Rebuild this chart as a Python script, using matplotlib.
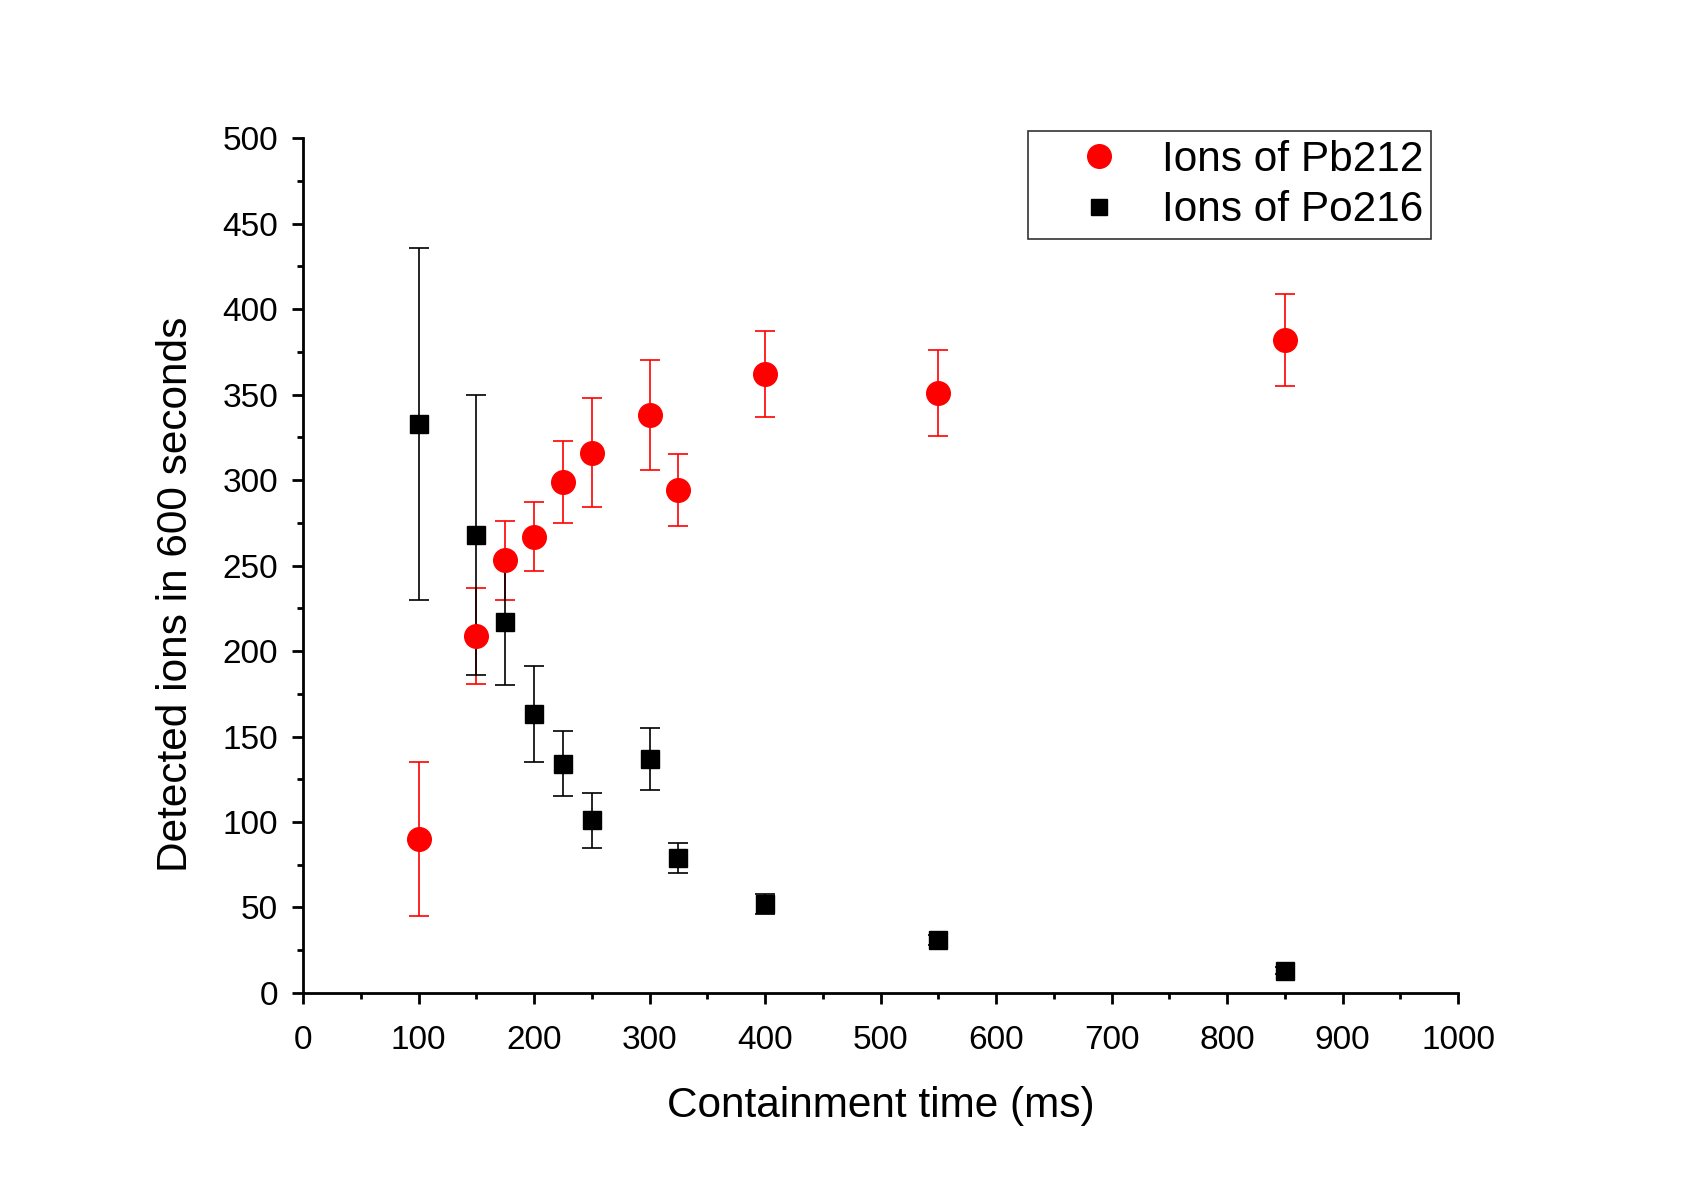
import matplotlib.pyplot as plt
from matplotlib.lines import Line2D
from matplotlib.ticker import MultipleLocator

plt.rcParams['font.family'] = ['Liberation Sans', 'DejaVu Sans']

# containment times (ms)
times = [100, 150, 175, 200, 225, 250, 300, 325, 400, 550, 850]

# Pb212 ions
pb212 = [90, 209, 253, 267, 299, 316, 338, 294, 362, 351, 382]
pb212_err = [45, 28, 23, 20, 24, 32, 32, 21, 25, 25, 27]

# Po216 ions
po216 = [333, 268, 217, 163, 134, 101, 137, 79, 52, 31, 13]
po216_err = [103, 82, 37, 28, 19, 16, 18, 9, 6, 3, 2]

fig = plt.figure(figsize=(16.96, 11.92), dpi=100)
ax = fig.add_axes([0.1787, 0.167, 0.681, 0.717])

ax.errorbar(times, pb212, yerr=pb212_err, fmt='o', color='red', ms=17,
            ecolor='red', elinewidth=1.2, capsize=7, capthick=1.2, zorder=3)
ax.errorbar(times, po216, yerr=po216_err, fmt='s', color='black', ms=13,
            ecolor='black', elinewidth=1.2, capsize=7, capthick=1.2, zorder=3)

ax.set_xlim(0, 1000)
ax.set_ylim(0, 500)
ax.xaxis.set_major_locator(MultipleLocator(100))
ax.xaxis.set_minor_locator(MultipleLocator(50))
ax.yaxis.set_major_locator(MultipleLocator(50))
ax.yaxis.set_minor_locator(MultipleLocator(25))

for s in ['top', 'right']:
    ax.spines[s].set_visible(False)
for s in ['left', 'bottom']:
    ax.spines[s].set_linewidth(2)

ax.tick_params(which='major', direction='out', length=8, width=2, labelsize=24, pad=10)
ax.tick_params(axis='x', which='major', pad=15)
ax.tick_params(which='minor', direction='out', length=4.5, width=2)

ax.set_xlabel('Containment time (ms)', fontsize=30.5, labelpad=22)
ax.set_ylabel('Detected ions in 600 seconds', fontsize=30.5)
ax.yaxis.set_label_coords(-0.093, 0.466)

handles = [
    Line2D([], [], ls='none', marker='o', color='red', ms=17),
    Line2D([], [], ls='none', marker='s', color='black', ms=12),
]
labels = ['Ions of Pb212', 'Ions of Po216']
leg = ax.legend(handles, labels, loc='upper right', bbox_to_anchor=(0.977, 1.008),
                fontsize=30.5, frameon=True, fancybox=False, edgecolor='black',
                borderpad=0.2, handletextpad=0.0, labelspacing=0.25,
                handlelength=2.95, borderaxespad=0)
leg.get_frame().set_linewidth(1.2)

fig.savefig('out.png', dpi=100)
